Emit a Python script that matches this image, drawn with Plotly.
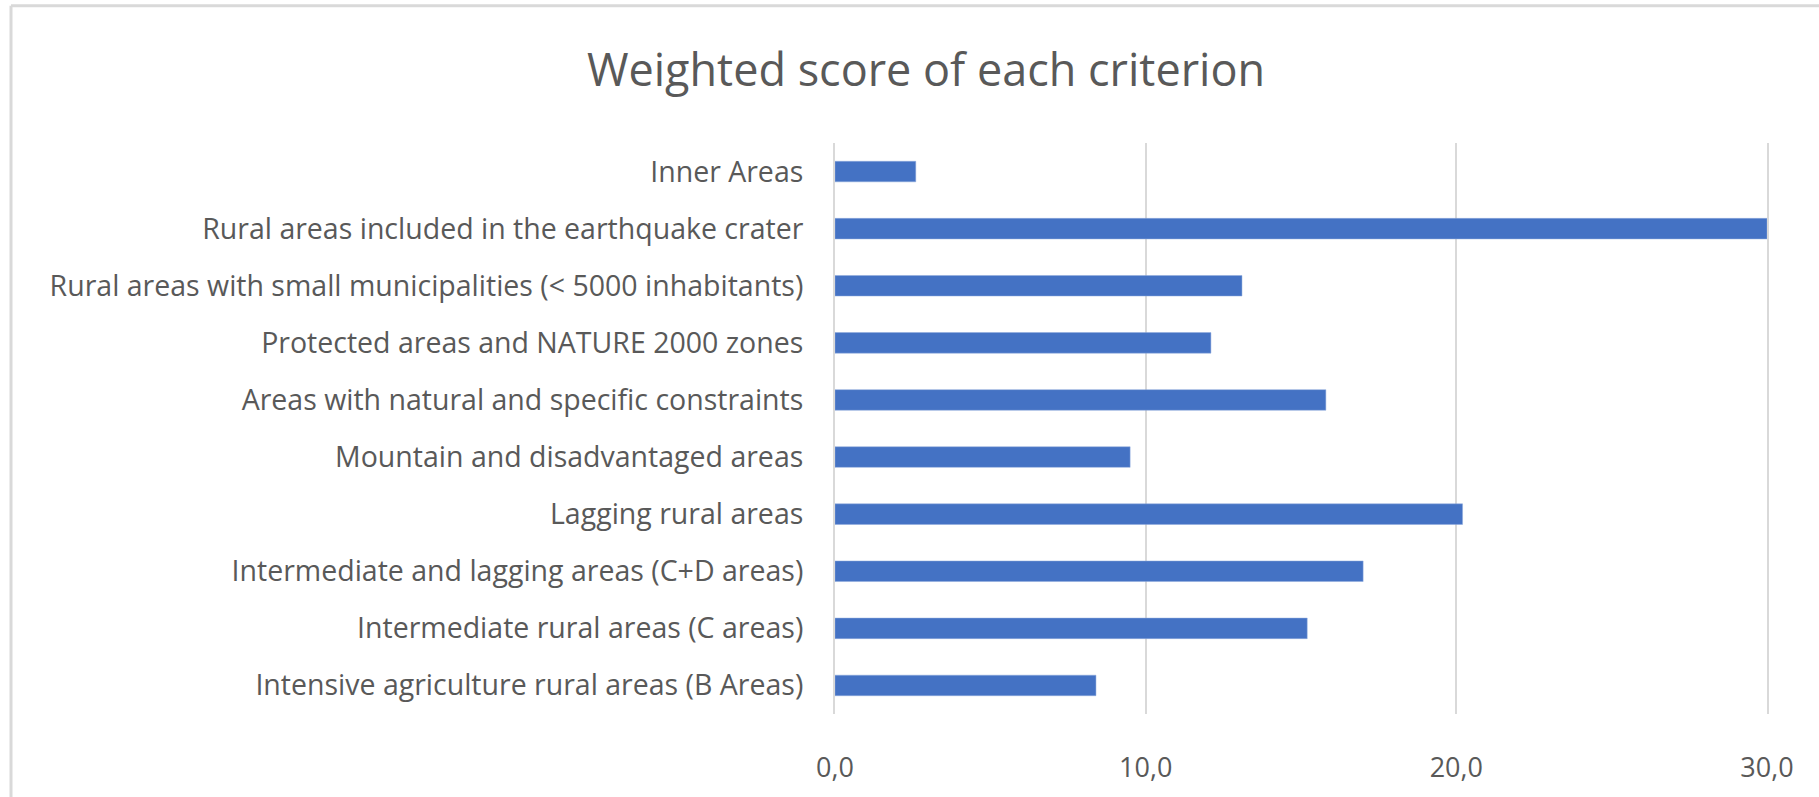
import plotly.graph_objects as go

categories = [
    "Inner Areas",
    "Rural areas included in the earthquake crater",
    "Rural areas with small municipalities (< 5000 inhabitants)",
    "Protected areas and NATURE 2000 zones",
    "Areas with natural and specific constraints",
    "Mountain and disadvantaged areas",
    "Lagging rural areas",
    "Intermediate and lagging areas (C+D areas)",
    "Intermediate rural areas (C areas)",
    "Intensive agriculture rural areas (B Areas)",
]
values = [2.6, 30.0, 13.1, 12.1, 15.8, 9.5, 20.2, 17.0, 15.2, 8.4]
x_ticks = [0, 10, 20, 30]
title_text = "Weighted score of each criterion"

W, H = 1819, 797
L, R, T, B = 835, 52, 143, 80
FONT = "Open Sans, sans-serif"
TXT = "#595959"

def px_x(p):
    return (p - L) / (W - L - R)

def px_y(p):
    return 1 - (p - T) / (H - T - B)

fig = go.Figure(go.Bar(
    x=values, y=categories, orientation="h",
    marker=dict(color="#4472C4", line=dict(color="#8FAADC", width=0.5)),
    width=0.36,
))

fig.update_layout(
    width=W, height=H,
    margin=dict(l=L, r=R, t=T, b=B),
    paper_bgcolor="white", plot_bgcolor="white",
    separators=",.",
    showlegend=False,
    title=dict(text=title_text, x=926 / W, xref="container", xanchor="center",
               y=1 - 70 / H, yref="container", yanchor="middle",
               font=dict(family=FONT, size=45, color=TXT)),
    font=dict(family=FONT, color=TXT),
    xaxis=dict(range=[0, 30], tickvals=x_ticks, tickformat=".1f",
               showgrid=True, gridcolor="#D9D9D9", gridwidth=2,
               zeroline=False, showline=False,
               ticks="outside", ticklen=0, ticklabelstandoff=30,
               tickfont=dict(family=FONT, size=27, color=TXT)),
    yaxis=dict(autorange="reversed", showgrid=False, zeroline=False,
               showline=True, mirror=True, linecolor="#D9D9D9", linewidth=2,
               ticks="outside", ticklen=0,
               ticklabelstandoff=24,
               tickfont=dict(family=FONT, size=28.5, color=TXT)),
    shapes=[
        dict(type="line", xref="paper", yref="paper",
             x0=px_x(11), x1=px_x(W + 5), y0=px_y(5), y1=px_y(5),
             line=dict(color="#D9D9D9", width=3)),
        dict(type="line", xref="paper", yref="paper",
             x0=px_x(11), x1=px_x(11), y0=px_y(5), y1=px_y(H + 5),
             line=dict(color="#D9D9D9", width=3)),
    ],
)

fig.write_html("out.html", config={"displayModeBar": False},
               post_script="document.body.style.margin='0';document.body.style.overflow='hidden';")
